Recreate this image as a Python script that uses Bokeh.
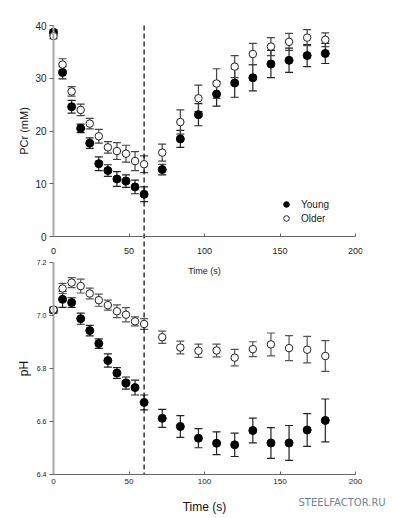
from bokeh.plotting import figure
from bokeh.models import (ColumnDataSource, Whisker, TeeHead, Label, Range1d,
                          Legend, LegendItem, FixedTicker, PrintfTickFormatter)
from bokeh.layouts import column
from bokeh.embed import file_html
from bokeh.resources import INLINE

FONT = "Liberation Sans"

time_s = [0, 6, 12, 18, 24, 30, 36, 42, 48, 54, 60, 72, 84, 96, 108, 120, 132, 144, 156, 168, 180]

pcr_young = [38.7, 31.1, 24.6, 20.5, 17.7, 13.8, 12.5, 10.9, 10.5, 9.4, 8.0, 12.7, 18.5,
             23.1, 27.0, 29.1, 30.1, 32.7, 33.4, 34.3, 34.7]
pcr_young_err = [0.5, 1.2, 1.2, 0.8, 1.0, 1.3, 1.1, 1.4, 1.2, 1.3, 1.4, 1.0, 1.6,
                 2.1, 2.3, 2.7, 2.5, 2.6, 2.3, 2.1, 1.9]
pcr_older = [38.0, 32.6, 27.5, 24.0, 21.4, 19.0, 16.9, 16.2, 15.7, 14.3, 13.7, 15.9, 21.7,
             26.2, 29.0, 32.2, 34.6, 36.0, 36.9, 37.7, 37.3]
pcr_older_err = [0.5, 1.1, 0.9, 1.1, 1.0, 1.3, 1.1, 1.6, 1.6, 1.8, 1.6, 1.6, 2.3,
                 2.5, 2.8, 2.1, 2.0, 1.7, 1.6, 1.5, 1.3]

ph_young = [7.020, 7.061, 7.049, 6.988, 6.943, 6.894, 6.830, 6.783, 6.745, 6.728, 6.672,
            6.612, 6.581, 6.537, 6.518, 6.512, 6.566, 6.519, 6.519, 6.568, 6.604]
ph_young_err = [0.010, 0.030, 0.018, 0.021, 0.020, 0.018, 0.025, 0.020, 0.023, 0.028, 0.028,
                0.034, 0.041, 0.036, 0.043, 0.044, 0.047, 0.058, 0.066, 0.062, 0.081]
ph_older = [7.022, 7.102, 7.124, 7.111, 7.083, 7.058, 7.039, 7.016, 7.003, 6.978, 6.968,
            6.918, 6.879, 6.867, 6.868, 6.841, 6.873, 6.891, 6.877, 6.871, 6.847]
ph_older_err = [0.010, 0.019, 0.019, 0.026, 0.020, 0.023, 0.019, 0.024, 0.027, 0.017, 0.020,
                0.023, 0.024, 0.025, 0.024, 0.031, 0.028, 0.043, 0.047, 0.050, 0.058]

x_ticks = [0, 50, 100, 150, 200]
pcr_ticks = [0, 10, 20, 30, 40]
ph_ticks = [6.4, 6.6, 6.8, 7.0, 7.2]
series_names = ["Young", "Older"]
exercise_end = 60

# pixel geometry of the panels (frames fill the canvases)
X_PX = 302.0 / 200.0       # px per second
PCR_PX = 211.0 / 40.0      # px per mM
PH_PX = 212.0 / 0.8        # px per pH unit
AXIS_X = 53                # pixel column of t = 0
TOP_PAD = 25               # pixels above PCr = 40
X0 = x_ticks[0] - AXIS_X / X_PX


def src(vals, errs):
    return ColumnDataSource(dict(
        t=time_s, y=vals,
        lo=[v - e for v, e in zip(vals, errs)],
        hi=[v + e for v, e in zip(vals, errs)]))


def add_series(p, s, filled, ecolor):
    w = Whisker(base="t", lower="lo", upper="hi", source=s, dimension="height",
                line_color=ecolor, line_width=1.2,
                lower_head=TeeHead(size=8, line_color=ecolor, line_width=1.2),
                upper_head=TeeHead(size=8, line_color=ecolor, line_width=1.2))
    p.add_layout(w)
    if filled:
        r = p.scatter("t", "y", source=s, size=8, fill_color="black", line_color="black")
    else:
        r = p.scatter("t", "y", source=s, size=7.5, fill_color="white", line_color="#222",
                      line_width=1)
    return r


def style(p, xfs, yfs, ybounds, xfixed):
    p.xgrid.visible = False
    p.ygrid.visible = False
    p.outline_line_color = None
    p.background_fill_color = "white"
    p.border_fill_color = "white"
    xa = p.xaxis[0]
    xa.fixed_location = xfixed
    xa.bounds = (x_ticks[0], x_ticks[-1])
    xa.ticker = FixedTicker(ticks=x_ticks)
    xa.axis_line_color = "#666"
    xa.major_tick_line_color = "#666"
    xa.major_tick_in = 3
    xa.major_tick_out = 0
    xa.minor_tick_line_color = None
    xa.major_label_text_font = FONT
    xa.major_label_text_font_size = xfs
    xa.major_label_text_color = "#222"
    ya = p.yaxis[0]
    ya.fixed_location = x_ticks[0]
    ya.bounds = ybounds
    ya.axis_line_color = "#a8a8a8"
    ya.axis_line_width = 2
    ya.major_tick_line_color = "#666"
    ya.major_tick_in = 0
    ya.major_tick_out = 4
    ya.minor_tick_line_color = None
    ya.major_label_text_font = FONT
    ya.major_label_text_font_size = yfs
    ya.major_label_text_color = "#222"
    ya.major_label_standoff = 3
    ya.axis_label_text_font = FONT
    ya.axis_label_text_font_style = "normal"
    ya.axis_label_text_color = "#111"


# ---------------- top panel (PCr) ----------------
top_fw, top_fh = 362, 256
pcr_hi = pcr_ticks[-1] + TOP_PAD / PCR_PX
pcr_lo = pcr_ticks[0] - (top_fh - TOP_PAD - 211) / PCR_PX
p1 = figure(frame_width=top_fw, frame_height=top_fh,
            x_range=Range1d(X0, X0 + top_fw / X_PX),
            y_range=Range1d(pcr_lo, pcr_hi),
            output_backend="svg", toolbar_location=None,
            min_border_left=0, min_border_right=392 - top_fw,
            min_border_top=0, min_border_bottom=0)
style(p1, "9px", "10px", (pcr_ticks[0], pcr_ticks[-1]), pcr_ticks[0])
p1.xaxis[0].major_label_standoff = 11
p1.yaxis[0].ticker = FixedTicker(ticks=pcr_ticks)
p1.yaxis[0].axis_label = "PCr (mM)"
p1.yaxis[0].axis_label_text_font_size = "11px"
p1.yaxis[0].axis_label_standoff = 2

s1y = src(pcr_young, pcr_young_err)
s1o = src(pcr_older, pcr_older_err)
p1.segment(x0=[exercise_end], y0=[pcr_ticks[-1]], x1=[exercise_end], y1=[pcr_lo],
           line_color="black", line_width=1.2, line_dash="5 3")
r_y = add_series(p1, s1y, True, "#222")
r_o = add_series(p1, s1o, False, "#444")

leg = Legend(items=[LegendItem(label=series_names[0], renderers=[r_y]),
                    LegendItem(label=series_names[1], renderers=[r_o])],
             location=(276, 31), padding=0, margin=0, spacing=0,
             label_height=14, glyph_height=14, glyph_width=20, label_standoff=5,
             label_text_font=FONT, label_text_font_size="10px", label_text_color="#222",
             border_line_color=None, background_fill_alpha=0)
p1.add_layout(leg)

# ---------------- bottom panel (pH) ----------------
bot_fw, bot_fh = 392, 261
ph_hi = ph_ticks[-1] + 6 / PH_PX
ph_lo = ph_ticks[0] - (bot_fh - 6 - 212) / PH_PX
p2 = figure(frame_width=bot_fw, frame_height=bot_fh,
            x_range=Range1d(X0, X0 + bot_fw / X_PX),
            y_range=Range1d(ph_lo, ph_hi),
            output_backend="svg", toolbar_location=None,
            min_border_left=0, min_border_right=0, min_border_top=0, min_border_bottom=0)
style(p2, "8px", "7px", (ph_ticks[0], ph_ticks[-1]), ph_ticks[0])
p2.xaxis[0].major_label_standoff = 4
p2.xaxis[0].axis_label = "Time (s)"
p2.xaxis[0].axis_label_text_font = FONT
p2.xaxis[0].axis_label_text_font_style = "normal"
p2.xaxis[0].axis_label_text_font_size = "12px"
p2.xaxis[0].axis_label_text_color = "#111"
p2.xaxis[0].axis_label_standoff = 13
p2.yaxis[0].ticker = FixedTicker(ticks=ph_ticks)
p2.yaxis[0].formatter = PrintfTickFormatter(format="%.1f")
p2.yaxis[0].axis_label = "pH"
p2.yaxis[0].axis_label_text_font_size = "12px"
p2.yaxis[0].axis_label_standoff = 3

s2y = src(ph_young, ph_young_err)
s2o = src(ph_older, ph_older_err)
p2.segment(x0=[exercise_end], y0=[ph_hi], x1=[exercise_end], y1=[ph_ticks[0]],
           line_color="black", line_width=1.2, line_dash="5 3")
add_series(p2, s2y, True, "#222")
add_series(p2, s2o, False, "#555")

# x-axis title of the top panel (sits just under its tick labels)
p2.add_layout(Label(x=100, y=ph_ticks[-1] - 8 / PH_PX, text="Time (s)", text_align="center",
                    text_baseline="middle", text_font=FONT, text_font_size="9px",
                    text_color="#222"))
# watermark
p2.add_layout(Label(x=x_ticks[0] + 245 / X_PX, y=ph_ticks[0] - 28 / PH_PX,
                    text="STEELFACTOR.RU", text_align="left",
                    text_baseline="middle", text_font="DejaVu Sans", text_font_size="10px",
                    text_color="#6f8398"))

layout = column(p1, p2, spacing=0)
open("out.html", "w").write(file_html(layout, INLINE))
